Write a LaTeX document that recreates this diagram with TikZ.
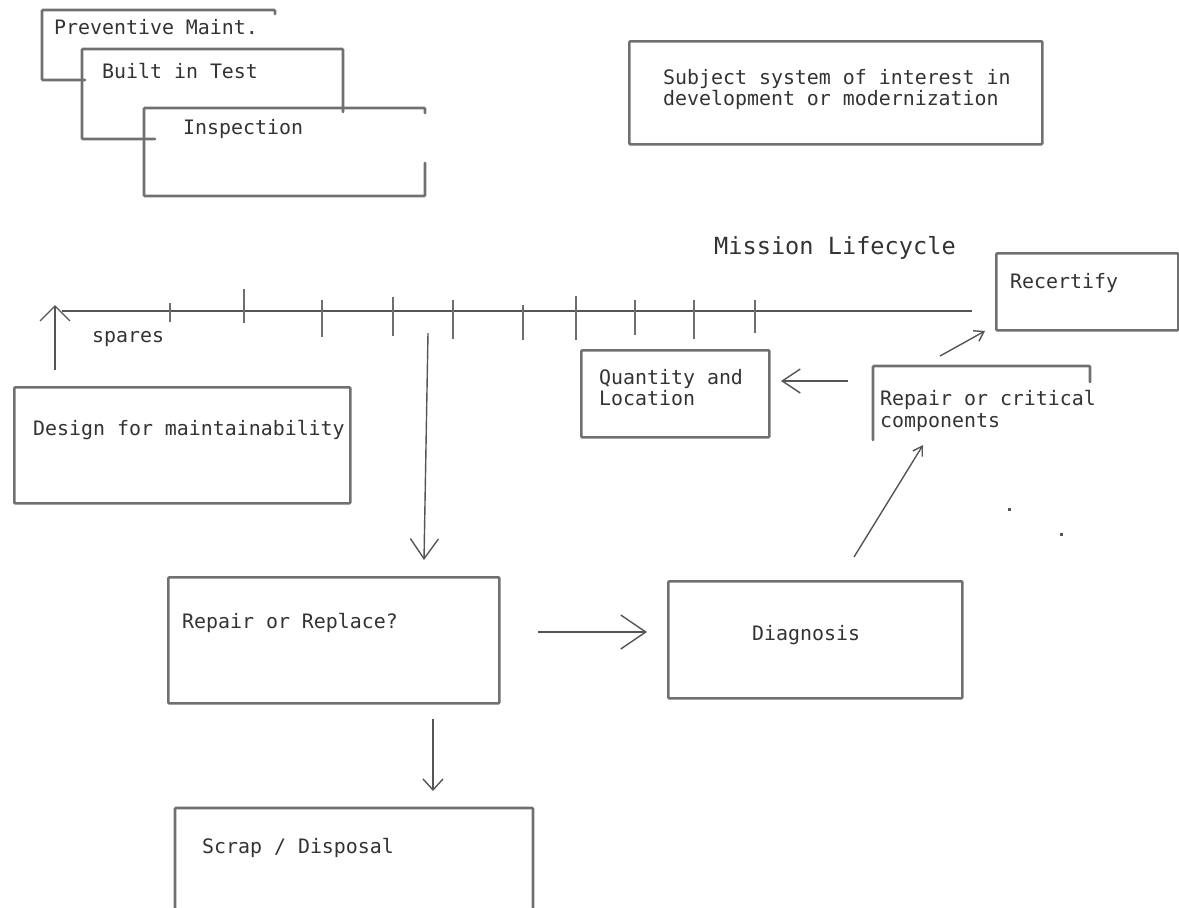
\documentclass[tikz,border=0pt]{standalone}
\usepackage{fontspec}
\setmonofont{DejaVu Sans Mono}
\usetikzlibrary{arrows.meta}
\definecolor{boxc}{HTML}{707070}
\definecolor{linec}{HTML}{555555}
\definecolor{txtc}{HTML}{333333}
\tikzset{
  box/.style={draw=boxc, line width=2.6pt, rounded corners=1pt, line cap=round},
  rbox/.style={box, rectangle, inner sep=0pt, anchor=north west},
  txt/.style={text=txtc, font=\ttfamily\fontsize{19.9}{21.5}\selectfont, inner sep=0pt, anchor=base west, align=left},
  bigtxt/.style={text=txtc, font=\ttfamily\fontsize{23.6}{26}\selectfont, inner sep=0pt, anchor=base west},
  tl/.style={draw=linec, line width=1.2pt},
  tick/.style={draw=linec!85, line width=1.4pt},
  arr/.style={draw=linec, line width=1.4pt},
}
\begin{document}
\begin{tikzpicture}[x=1pt,y=-1pt]
\useasboundingbox (0,0) rectangle (1179,908);
% stacked boxes top-left
\draw[box] (275,14) -- (275,10) -- (42,10) -- (42,80) -- (85,80);
\draw[box] (343,112) -- (343,49) -- (82,49) -- (82,139) -- (155,139);
\draw[box] (425,113) -- (425,108) -- (144,108) -- (144,196) -- (425,196) -- (425,163);
\node[txt] (prev) at (54,34) {Preventive Maint.};
\node[txt] (bit) at (102,78) {Built in Test};
\node[txt] (insp) at (183,134) {Inspection};
% subject box
\node[rbox, minimum width=413pt, minimum height=103pt] (subjbox) at (628,40) {};
\node[txt] (subj) at (663,105.5) {Subject system of interest in\\development or modernization};
% mission lifecycle
\node[bigtxt] (mission) at (714,254) {Mission Lifecycle};
\coordinate (tlA) at (62,311);
\coordinate (tlB) at (972,311);
\draw[tl] (tlA) -- (tlB);
\foreach \x/\a/\b in {170/303/322, 244/289/323, 322/300/337, 393/297/336, 453/300/339, 523/305/340, 576/296/340, 635/300/335, 694/300/339, 755/300/333}
  \draw[tick] (\x,\a) -- (\x,\b);
% recertify
\node[rbox, minimum width=182pt, minimum height=77pt] (recbox) at (995,252) {};
\node[txt] (rec) at (1010,288) {Recertify};
% spares / design
\node[txt] (spares) at (92,342) {spares};
\coordinate (spA) at (55,370);
\coordinate (spB) at (55,305);
\draw[arr, -{Straight Barb[length=15pt, width=30pt, line width=1.4pt]}] (spA) -- (spB);
\node[rbox, minimum width=336pt, minimum height=116pt] (designbox) at (13,386) {};
\node[txt] (design) at (33,435) {Design for maintainability};
% quantity
\node[rbox, minimum width=188pt, minimum height=87pt] (qbox) at (580,349) {};
\node[txt] (qty) at (599,405.5) {Quantity and\\Location};
% repair critical
\draw[box] (1090,382) -- (1090,366) -- (873,366) -- (873,440);
\node[txt] (rcc) at (880,427) {Repair or critical\\components};
\coordinate (lA) at (848,381);
\coordinate (lB) at (781,381);
\draw[arr, -{Straight Barb[length=18pt, width=24pt, line width=1.4pt]}] (lA) -- (lB);
\coordinate (rA) at (940,356);
\coordinate (rB) at (985,331);
\draw[arr, -{Straight Barb[length=9pt, width=12pt, line width=1.4pt]}] (rA) -- (rB);
\coordinate (dA) at (854,557);
\coordinate (dB) at (923,445);
\draw[arr, -{Straight Barb[length=9pt, width=11pt, line width=1.4pt]}] (dA) -- (dB);
% dots
\fill[linec] (1008,508) rectangle (1010.5,510.5);
\fill[linec] (1060,533) rectangle (1062.5,535.5);
% long down arrow
\coordinate (mA) at (428,333);
\coordinate (mB) at (424,560);
\draw[arr, -{Straight Barb[length=20pt, width=28pt, line width=1.4pt]}] (mA) -- (mB);
% repair or replace
\node[rbox, minimum width=331pt, minimum height=126pt] (rrbox) at (167,576) {};
\node[txt] (rr) at (182,628) {Repair or Replace?};
\coordinate (hA) at (538,632);
\coordinate (hB) at (647,632);
\draw[arr, -{Straight Barb[length=25pt, width=34pt, line width=1.4pt]}] (hA) -- (hB);
% diagnosis
\node[rbox, minimum width=294pt, minimum height=117pt] (diagbox) at (667,580) {};
\node[txt] (diag) at (752,640) {Diagnosis};
% down to scrap
\coordinate (sA) at (433,719);
\coordinate (sB) at (433,791);
\draw[arr, -{Straight Barb[length=11pt, width=20pt, line width=1.4pt]}] (sA) -- (sB);
\draw[box] (175,912) -- (175,808) -- (533,808) -- (533,912);
\node[txt] (scrap) at (202,853) {Scrap / Disposal};
\end{tikzpicture}
\end{document}
